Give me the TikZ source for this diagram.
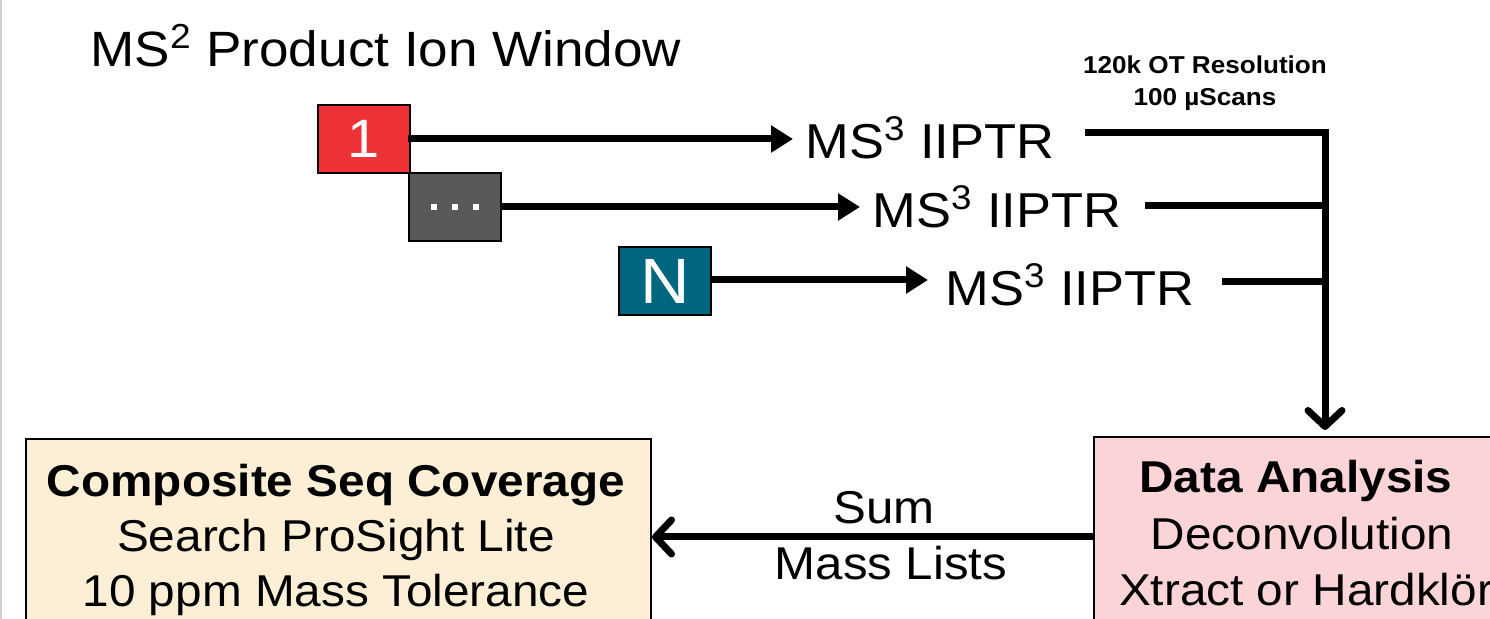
\documentclass[tikz,border=0pt]{standalone}
\usepackage{fontspec}
\setmainfont{Liberation Sans}[FakeStretch=1.07]
\usetikzlibrary{arrows.meta}
\definecolor{boxred}{HTML}{EE3237}
\definecolor{boxgray}{HTML}{58595B}
\definecolor{boxteal}{HTML}{006680}
\definecolor{boxpink}{HTML}{FAD4D6}
\definecolor{boxcream}{HTML}{FDEFD6}
\definecolor{edgegray}{HTML}{D0D0D0}
\tikzset{
  winbox/.style={draw=black, line width=1pt, minimum width=46pt, minimum height=34pt, inner sep=0pt, text=white, anchor=north west},
  bigbox/.style={draw=black, line width=1pt, anchor=north west, inner sep=0pt},
  thick line/.style={line width=3.5pt},
  tri arrow/.style={thick line, -{Triangle[length=11pt,width=13pt]}},
  barb arrow/.style={thick line, -{Straight Barb[length=8pt,width=17pt,round]}},
  msname/.style={font=\fontsize{24.5pt}{28pt}\selectfont, anchor=west, inner sep=0pt},
  boxtxt/.style={font=\fontsize{22.3pt}{28pt}\selectfont, anchor=base, inner sep=0pt},
  boxhead/.style={font=\bfseries\fontsize{22.3pt}{28pt}\selectfont, anchor=base, inner sep=0pt},
  sumtxt/.style={font=\fontsize{23pt}{28pt}\selectfont, anchor=base, inner sep=0pt},
}
\newcommand{\whitedot}{\textcolor{white}{\rule{3pt}{3pt}}}
\begin{document}
\begin{tikzpicture}[x=0.5pt, y=-0.5pt]
\useasboundingbox (0,0) rectangle (1490,619);
\clip (0,0) rectangle (1490,619);
\fill[white] (0,0) rectangle (1490,619);
\draw[edgegray, line width=0.6pt] (1,0) -- (1,619);

% title
\node[anchor=base west, inner sep=0pt, font=\fontsize{24.8pt}{30pt}\selectfont] (title) at (90,67) {MS\textsuperscript{2} Product Ion Window};

% window boxes
\node[winbox, fill=boxred, font=\fontsize{27pt}{30pt}\selectfont] (w1) at (317,104) {1};
\node[winbox, fill=boxgray] (w2) at (408,172) {\whitedot\hspace{7.5pt}\whitedot\hspace{7.5pt}\whitedot};
\node[winbox, fill=boxteal, font=\fontsize{32pt}{34pt}\selectfont] (wn) at (618,246) {N};

% MS3 nodes
\node[msname] (m1) at (805,138) {MS\textsuperscript{3} IIPTR};
\node[msname] (m2) at (872,207) {MS\textsuperscript{3} IIPTR};
\node[msname] (m3) at (945,285) {MS\textsuperscript{3} IIPTR};

\coordinate (a1s) at (408,139);
\coordinate (a1e) at (793,139);
\coordinate (a2s) at (500,207);
\coordinate (a2e) at (860,207);
\coordinate (a3s) at (710,280);
\coordinate (a3e) at (928,280);
\draw[tri arrow] (a1s) -- (a1e);
\draw[tri arrow] (a2s) -- (a2e);
\draw[tri arrow] (a3s) -- (a3e);

% scan label
\node[inner sep=0pt, align=center, anchor=base, font=\bfseries\fontsize{12.2pt}{16pt}\selectfont] (lab) at (1205,106) {120k OT Resolution\\100 µScans};

% collector lines
\coordinate (c1) at (1085,133);
\coordinate (c2) at (1145,206);
\coordinate (c3) at (1222,282);
\coordinate (j1) at (1325,133);
\coordinate (j2) at (1325,206);
\coordinate (j3) at (1325,282);
\draw[thick line] (c2) -- (j2);
\draw[thick line] (c3) -- (j3);

% bottom boxes
\node[bigbox, fill=boxpink, minimum width=210pt, minimum height=120pt] (da) at (1093,436) {};
\node[bigbox, fill=boxcream, minimum width=312.5pt, minimum height=120pt] (cs) at (25,438) {};

\draw[barb arrow, shorten >=3pt] (c1) -- (j1) -- (j1 |- da.north);

\node[boxhead] (da1) at (1296,493) {Data Analysis};
\node[boxtxt] (da2) at (1302,550) {Deconvolution};
\node[boxtxt] (da3) at (1306,606) {Xtract or Hardklör};

\node[boxhead] (cs1) at (336,497) {Composite Seq Coverage};
\node[boxtxt] (cs2) at (336,552) {Search ProSight Lite};
\node[boxtxt] (cs3) at (336,607) {10 ppm Mass Tolerance};

\draw[barb arrow] (da.west |- 0,537) -- (cs.east |- 0,537);
\node[sumtxt] (s1) at (884,524) {Sum};
\node[sumtxt] (s2) at (891,580) {Mass Lists};
\end{tikzpicture}
\end{document}
